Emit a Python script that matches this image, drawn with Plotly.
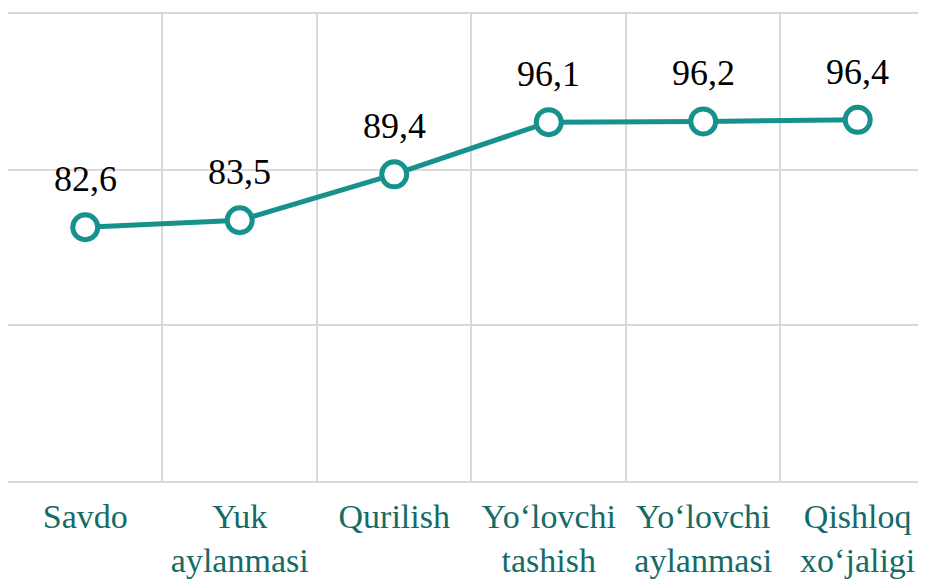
import plotly.graph_objects as go

categories = ["Savdo", "Yuk<br>aylanmasi", "Qurilish", "Yo‘lovchi<br>tashish",
              "Yo‘lovchi<br>aylanmasi", "Qishloq<br>xo‘jaligi"]
values = [82.6, 83.5, 89.4, 96.1, 96.2, 96.4]
labels = [str(v).replace(".", ",") for v in values]

SERIF = "Liberation Serif, Times New Roman, DejaVu Serif, serif"
TEAL = "#17918c"
GRID = "#d9d9d9"

fig = go.Figure()
fig.add_trace(go.Scatter(
    x=categories, y=values, mode="lines+markers",
    line=dict(color=TEAL, width=5),
    marker=dict(size=25, color="white", line=dict(color=TEAL, width=5)),
    cliponaxis=False,
))

# value labels above points
for c, v, t in zip(categories, values, labels):
    fig.add_annotation(x=c, y=v, text=t, showarrow=False, yanchor="bottom",
                       yshift=26, font=dict(family=SERIF, size=36, color="black"))

# page body has an 8px margin, so the figure is sized to the remaining area
fig.update_layout(
    width=918, height=571,
    margin=dict(l=0, r=0, t=6, b=98),
    plot_bgcolor="white", paper_bgcolor="white",
    showlegend=False,
    font=dict(family=SERIF),
)
fig.update_xaxes(
    type="category", range=[-0.5, 5.442], tickson="boundaries",
    showgrid=True, gridcolor=GRID, gridwidth=2,
    ticks="", ticklabelstandoff=4, automargin=False,
    tickfont=dict(family=SERIF, size=34, color="#156b66"),
    showline=True, linecolor=GRID, linewidth=2, mirror=True, zeroline=False,
)
fig.update_yaxes(
    range=[50, 110], dtick=20, tick0=50, automargin=False,
    showgrid=True, gridcolor=GRID, gridwidth=2,
    showticklabels=False, zeroline=False,
    showline=True, linecolor=GRID, linewidth=2, mirror=False,
)

fig.write_html("out.html")
